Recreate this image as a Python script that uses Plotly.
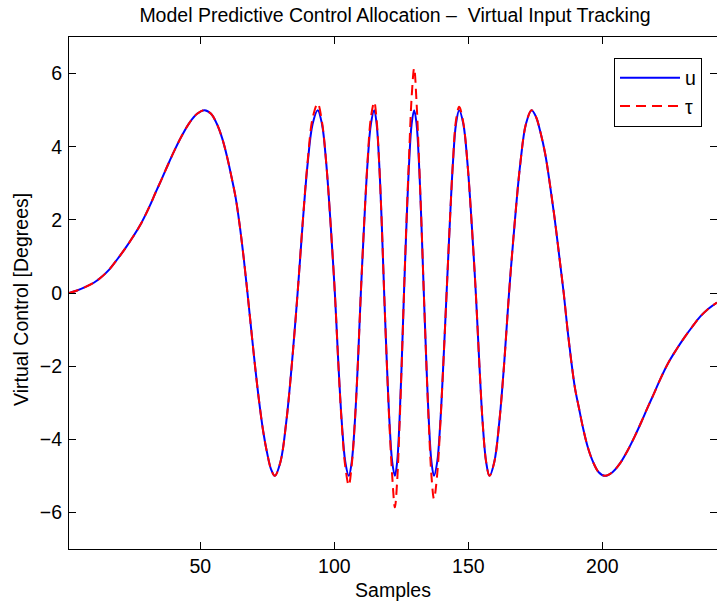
import plotly.graph_objects as go

sample_x = [1, 4, 7, 10.25, 13, 16, 19.1, 22, 25, 27.9, 31, 33.5, 35.5, 38, 40.5, 43.1, 46, 48.8, 51.6,
            54, 56.2, 58.2, 60, 61.7, 63.2, 64.7, 66.2, 67.6, 69, 70.5, 72, 73.5, 75, 76.4, 77.8,
            79.9, 82.05, 84.2, 86.3, 88.2, 90.05, 91.9, 93.8,
            95.4, 97.0, 98.6, 100.2, 101.5, 102.8, 104.1, 105.4,
            106.5, 107.65, 108.8, 109.9, 111.15, 112.4, 113.65, 114.9,
            115.8, 116.75, 117.7, 118.6, 119.6, 120.6, 121.6, 122.6,
            123.45, 124.3, 125.15, 126.0, 126.95, 127.9, 128.85, 129.8,
            130.7, 131.6, 132.5, 133.4, 134.35, 135.3, 136.25, 137.2,
            138.4, 139.55, 140.7, 141.9, 143.1, 144.25, 145.4, 146.6,
            148.15, 149.7, 151.25, 152.8, 154.1, 155.35, 156.65, 157.9,
            159.7, 161.55, 163.4, 165.2, 167.3, 169.4, 171.5, 173.6,
            175.25, 176.9, 178.7, 180.4, 182.2, 183.95, 185.6,
            186.95, 188.4, 189.8, 191.3, 192.9, 194.6, 196.55, 198.65, 201.0,
            203.8, 206.6, 209.5, 212.1, 214.6, 217.1, 219.1, 221.6, 224.7, 227.6,
            230.6, 233.5, 236.6, 239.6, 242.8]

# virtual control u [deg]
u_vals = [0.00, 0.07, 0.16, 0.28, 0.43, 0.64, 0.93, 1.22, 1.55, 1.90, 2.36, 2.78, 3.10, 3.52, 3.92, 4.30, 4.66, 4.90, 5.00,
          4.90, 4.62, 4.22, 3.72, 3.15, 2.60, 1.85, 0.95, 0.00, -1.00, -2.05, -3.00, -3.80, -4.40, -4.82, -5.00,
          -4.62, -3.54, -1.91, 0.00, 1.91, 3.54, 4.62, 5.00,
          4.62, 3.54, 1.91, 0.00, -1.91, -3.54, -4.62, -5.00,
          -4.62, -3.54, -1.91, 0.00, 1.91, 3.54, 4.62, 5.00,
          4.62, 3.54, 1.91, 0.00, -1.91, -3.54, -4.62, -5.00,
          -4.62, -3.54, -1.91, 0.00, 1.91, 3.54, 4.62, 5.00,
          4.62, 3.54, 1.91, 0.00, -1.91, -3.54, -4.62, -5.00,
          -4.62, -3.54, -1.91, 0.00, 1.91, 3.54, 4.62, 5.00,
          4.62, 3.54, 1.91, 0.00, -1.91, -3.54, -4.62, -5.00,
          -4.62, -3.54, -1.91, 0.00, 1.91, 3.54, 4.62, 5.00,
          4.82, 4.40, 3.80, 3.00, 2.05, 1.00, 0.00,
          -0.95, -1.85, -2.60, -3.15, -3.72, -4.22, -4.62, -4.90, -5.00,
          -4.90, -4.66, -4.30, -3.92, -3.52, -3.10, -2.78, -2.36, -1.90, -1.55,
          -1.22, -0.93, -0.64, -0.43, -0.26]

# commanded virtual input tau [deg]
tau_vals = [0.00, 0.07, 0.16, 0.28, 0.43, 0.64, 0.93, 1.22, 1.55, 1.90, 2.36, 2.78, 3.10, 3.52, 3.92, 4.30, 4.66, 4.90, 5.00,
            4.90, 4.62, 4.22, 3.72, 3.15, 2.60, 1.85, 0.95, 0.00, -1.00, -2.05, -3.00, -3.80, -4.40, -4.82, -5.00,
            -4.62, -3.54, -1.91, 0.00, 1.93, 3.60, 4.78, 5.18,
            4.68, 3.54, 1.91, 0.00, -1.93, -3.60, -4.75, -5.26,
            -4.70, -3.54, -1.91, 0.00, 1.93, 3.60, 4.80, 5.22,
            4.72, 3.54, 1.91, 0.00, -1.93, -3.65, -5.00, -5.86,
            -5.15, -3.70, -1.95, 0.00, 2.00, 3.75, 5.35, 6.15,
            5.20, 3.65, 1.93, 0.00, -1.93, -3.65, -5.00, -5.63,
            -4.95, -3.60, -1.91, 0.00, 1.91, 3.56, 4.72, 5.09,
            4.65, 3.54, 1.91, 0.00, -1.91, -3.54, -4.62, -5.00,
            -4.62, -3.54, -1.91, 0.00, 1.91, 3.54, 4.62, 5.00,
            4.82, 4.40, 3.80, 3.00, 2.05, 1.00, 0.00,
            -0.95, -1.85, -2.60, -3.15, -3.72, -4.22, -4.62, -4.90, -5.00,
            -4.90, -4.66, -4.30, -3.92, -3.52, -3.10, -2.78, -2.36, -1.90, -1.55,
            -1.22, -0.93, -0.64, -0.43, -0.26]

x_ticks = [50, 100, 150, 200]
y_ticks = [-6, -4, -2, 0, 2, 4, 6]

FONT = "Liberation Sans, Arial, Helvetica, sans-serif"
FS = 19.5

fig = go.Figure()
fig.add_trace(go.Scatter(x=sample_x, y=u_vals, mode="lines", name="u",
                         line=dict(color="#0000ff", width=2, shape="spline", smoothing=1.0)))
fig.add_trace(go.Scatter(x=sample_x, y=tau_vals, mode="lines", name="τ",
                         line=dict(color="#ff0000", width=2, dash="10px,6px",
                                   shape="spline", smoothing=1.0)))

axis_common = dict(showgrid=False, zeroline=False, showline=True, linecolor="black",
                   linewidth=1, mirror="allticks", ticks="inside", ticklen=7,
                   tickcolor="black", tickwidth=1, automargin=False,
                   tickfont=dict(family=FONT, size=FS, color="black"))

fig.update_xaxes(range=[1, 242.8], tickvals=x_ticks, ticktext=[str(v) for v in x_ticks],
                 title=dict(text="Samples", font=dict(family=FONT, size=FS, color="black"),
                            standoff=6),
                 **axis_common)
fig.update_yaxes(range=[-7, 7], tickvals=y_ticks,
                 ticktext=[("\u2212" + str(-v)) if v < 0 else str(v) for v in y_ticks],
                 ticklabelstandoff=2,
                 **axis_common)

PLOT_L, PLOT_R, PLOT_T, PLOT_B = 69, 717, 37, 549
PW, PH = PLOT_R - PLOT_L, PLOT_B - PLOT_T

# y-axis label (placed as rotated text, centred slightly below the axis middle as in the reference)
fig.add_annotation(text="Virtual Control [Degrees]", textangle=-90, showarrow=False,
                   xref="paper", yref="paper", x=(21 - PLOT_L) / PW, y=(PLOT_B - 300) / PH,
                   xanchor="center", yanchor="middle",
                   font=dict(family=FONT, size=FS, color="black"))

fig.update_layout(
    width=717, height=607,
    margin=dict(l=PLOT_L, r=717 - PLOT_R, t=PLOT_T, b=607 - PLOT_B, autoexpand=False),
    paper_bgcolor="white", plot_bgcolor="white",
    title=dict(text="Model Predictive Control Allocation \u2013  Virtual Input Tracking",
               font=dict(family=FONT, size=FS, color="black"), automargin=False,
               x=395 / 717, xanchor="center", y=1 - 15 / 607, yanchor="middle"),
    legend=dict(x=(702 - PLOT_L) / PW, xanchor="right",
                y=(PLOT_B - 57.5) / PH, yanchor="top",
                bgcolor="white", bordercolor="black", borderwidth=1,
                font=dict(family=FONT, size=FS, color="black"),
                itemwidth=60, tracegroupgap=0),
    showlegend=True,
)

fig.write_html("out.html",
               config={"displayModeBar": False, "staticPlot": True},
               post_script="document.body.style.margin='0px';"
                           "document.body.style.overflow='hidden';")
